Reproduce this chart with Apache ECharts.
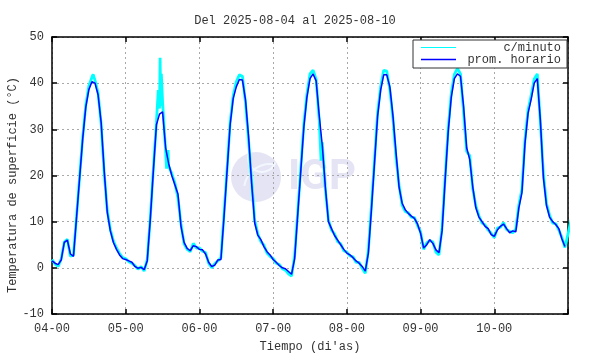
<!DOCTYPE html>
<html>
<head>
<meta charset="utf-8">
<script src="https://cdn.jsdelivr.net/npm/echarts@6/dist/echarts.min.js"></script>
<style>html,body{margin:0;padding:0;background:#fff}#c{width:590px;height:354px}</style>
</head>
<body>
<div id="c"></div>
<script>
// Tick labels for day boundaries (hours 0,24,...,144)
var dayLabels = ['04-00','05-00','06-00','07-00','08-00','09-00','10-00'];

// Hourly average ("prom. horario"), one value per hour, 2025-08-04 00h .. 2025-08-10 23h
var hourly04 = [1.5,1.0,0.7,1.7,5.5,6.0,3.0,2.5,11.0,19.5,28.0,34.8,38.6,40.3,40.0,37.5,31.5,21.0,12.0,8.0,5.5,4.0,2.8,2.0];
var hourly05 = [1.8,1.5,1.2,0.3,-0.1,0.1,-0.4,1.5,10.5,21.0,31.0,33.3,33.8,26.0,22.5,20.0,18.0,16.0,9.0,5.5,4.2,3.7,4.8,4.6];
var hourly06 = [4.0,3.9,3.0,1.2,0.3,0.6,1.7,1.8,11.0,21.0,31.0,36.7,39.2,40.8,40.7,36.4,28.4,18.3,9.7,7.1,6.1,4.6,3.5,2.8];
var hourly07 = [1.8,1.2,0.5,0.0,-0.2,-0.8,-1.4,2.0,11.5,21.0,30.5,37.0,41.0,42.0,40.5,33.0,26.5,17.5,10.0,8.5,7.0,6.0,5.0,4.0];
var hourly08 = [3.2,2.8,2.2,1.5,1.0,0.3,-0.7,3.2,12.6,22.7,32.8,38.5,41.8,41.8,39.2,33.0,25.0,17.5,14.0,12.6,11.8,11.2,10.7,9.5];
var hourly09 = [7.5,4.3,5.0,6.1,5.3,3.9,3.3,8.0,19.0,29.5,37.0,41.0,42.0,41.5,35.0,26.0,23.5,17.5,13.0,11.0,10.0,9.0,8.5,7.2];
var hourly10 = [6.8,8.2,9.0,9.5,8.5,7.6,8.0,7.8,13.0,16.3,27.0,33.5,36.5,40.0,41.0,32.0,19.5,13.5,11.0,10.0,9.4,8.5,6.3,4.6];

// Per-minute readings ("c/minuto"), read at the hour marks ...
var minute04 = [1.8,0.8,0.3,1.9,5.6,6.2,2.5,2.8,11.2,19.8,28.3,35.2,39.4,41.3,40.6,37.9,31.2,20.5,12.4,8.3,5.8,4.3,3.1,2.2];
var minute05 = [2.0,1.3,1.0,0.5,-0.3,0.3,-0.7,1.8,10.8,21.5,31.5,34.5,36.0,25.2,22.0,20.4,18.4,15.2,9.5,5.2,4.0,3.5,5.3,4.3];
var minute06 = [4.3,3.6,3.3,1.0,0.0,0.9,1.5,2.2,11.6,21.4,31.5,37.3,40.3,41.8,41.5,35.8,27.6,18.8,10.3,7.4,5.7,4.9,3.2,2.5];
var minute07 = [2.0,1.0,0.7,-0.2,-0.5,-1.3,-1.8,2.6,12.0,21.6,31.2,37.6,42.0,42.8,40.8,32.0,27.2,17.0,10.4,8.2,7.3,5.7,5.2,3.7];
var minute08 = [3.4,2.6,2.4,1.2,1.2,-0.1,-1.2,3.8,13.4,23.3,33.5,39.2,42.8,42.6,38.6,32.4,24.0,17.9,13.6,12.2,11.9,11.0,10.9,9.2];
var minute09 = [7.8,4.0,5.4,5.9,5.6,3.4,2.8,8.7,19.6,30.2,37.8,41.9,43.2,42.0,33.8,25.2,24.3,17.1,13.4,11.3,9.7,9.3,8.2,7.5];
var minute10 = [6.5,8.6,8.8,9.8,8.3,7.9,7.6,8.4,13.6,17.0,27.8,34.2,37.3,40.9,42.0,31.5,20.3,13.9,11.4,9.7,9.6,8.2,6.6,4.4];
// ... plus visible per-minute excursions [hours since 04-00, value]
var minuteSpikes = [[13.4,41.9],[34.6,38.5],[35.2,45.5],[35.4,35.0],[35.6,42.0],[37.3,21.5],[37.8,25.5],
  [87.6,23.2],[180.3,43.6],[203.0,39.5],[204.3,44.6],[206.6,21.5],[228.6,31.5],[229.5,44.0]];

var hourlyAll = [].concat(hourly04,hourly05,hourly06,hourly07,hourly08,hourly09,hourly10);
var minuteAll = [].concat(minute04,minute05,minute06,minute07,minute08,minute09,minute10);

var blueData = hourlyAll.map(function(v,i){return [i,v];});
var cyanData = minuteAll.map(function(v,i){return [i,v];}).concat(minuteSpikes)
  .sort(function(a,b){return a[0]-b[0];});

var FONT = 'Liberation Mono';
var TXT = '#333333';
var chart = echarts.init(document.getElementById('c'), null, {renderer:'canvas'});

function xAx(pos, labels){
  return {
    type:'value', min:0, max:168, interval:24, position:pos,
    axisLine:{show:true,onZero:false,lineStyle:{color:'#000',width:1.5}},
    axisTick:{show:true,inside:true,length:5,lineStyle:{color:'#000',width:1.5}},
    axisLabel:{show:labels,color:TXT,fontFamily:FONT,fontSize:12,margin:9,
      formatter:function(v){var i=Math.round(v/24);return dayLabels[i]||'';}},
    splitLine:{show:labels,lineStyle:{color:'#a8a8a8',type:[2,3],width:1}},
    name: labels ? 'Tiempo (di\'as)' : '', nameLocation:'middle', nameGap:27,
    nameTextStyle:{color:TXT,fontFamily:FONT,fontSize:12}
  };
}
function yAx(pos, labels){
  return {
    type:'value', min:-10, max:50, interval:10, position:pos,
    axisLine:{show:true,onZero:false,lineStyle:{color:'#000',width:1.5}},
    axisTick:{show:true,inside:true,length:5,lineStyle:{color:'#000',width:1.5}},
    axisLabel:{show:labels,color:TXT,fontFamily:FONT,fontSize:12,margin:8},
    splitLine:{show:labels,lineStyle:{color:'#a8a8a8',type:[2,3],width:1}}
  };
}

chart.setOption({
  animation:false,
  backgroundColor:'#fff',
  title:{text:'Del 2025-08-04 al 2025-08-10',left:'center',top:10,
    textStyle:{color:TXT,fontFamily:FONT,fontSize:12,fontWeight:'normal'}},
  grid:{left:52,right:22,top:37,bottom:40,containLabel:false,outerBoundsMode:'none'},
  xAxis:[xAx('bottom',true), xAx('top',false)],
  yAxis:[yAx('left',true), yAx('right',false)],
  graphic:[
    {type:'text',x:13,y:185,rotation:Math.PI/2,
      style:{text:'Temperatura de superficie (°C)',textAlign:'center',textVerticalAlign:'middle',fill:TXT,font:'12px "Liberation Mono"'},z:50},
    {type:'circle',shape:{cx:256,cy:177,r:25},style:{fill:'#e4e4f5'},z:-10,silent:true},
    {type:'arc',shape:{cx:270,cy:190,r:26,startAngle:Math.PI*1.05,endAngle:Math.PI*1.55},style:{stroke:'#f2f6fd',lineWidth:2,fill:null},z:-9,silent:true},
    {type:'arc',shape:{cx:262,cy:158,r:14,startAngle:Math.PI*0.1,endAngle:Math.PI*1.1},style:{stroke:'#f2f6fd',lineWidth:2,fill:null},z:-9,silent:true},
    {type:'text',left:288,top:157,style:{text:'IGP',fill:'#e4e4f5',font:'bold 42px Roboto'},z:-10,silent:true},
    {type:'rect',shape:{x:413,y:40,width:154,height:28},style:{fill:'#fff',stroke:'#333',lineWidth:1},z:100},
    {type:'line',shape:{x1:421,y1:47.5,x2:456,y2:47.5},style:{stroke:'#00ffff',lineWidth:1},z:101},
    {type:'line',shape:{x1:421,y1:59.5,x2:456,y2:59.5},style:{stroke:'#0000ff',lineWidth:1.5},z:101},
    {type:'text',x:561,y:47.5,style:{text:'c/minuto',textAlign:'right',textVerticalAlign:'middle',fill:TXT,font:'12px "Liberation Mono"'},z:101},
    {type:'text',x:561,y:60,style:{text:'prom. horario',textAlign:'right',textVerticalAlign:'middle',fill:TXT,font:'12px "Liberation Mono"'},z:101}
  ],
  series:[
    {name:'c/minuto',type:'line',data:cyanData,showSymbol:false,symbol:'none',
      lineStyle:{color:'#00ffff',width:2.8},z:3},
    {name:'prom. horario',type:'line',data:blueData,showSymbol:false,symbol:'none',
      lineStyle:{color:'#0000ff',width:1.5},z:4}
  ]
});
</script>
</body>
</html>
